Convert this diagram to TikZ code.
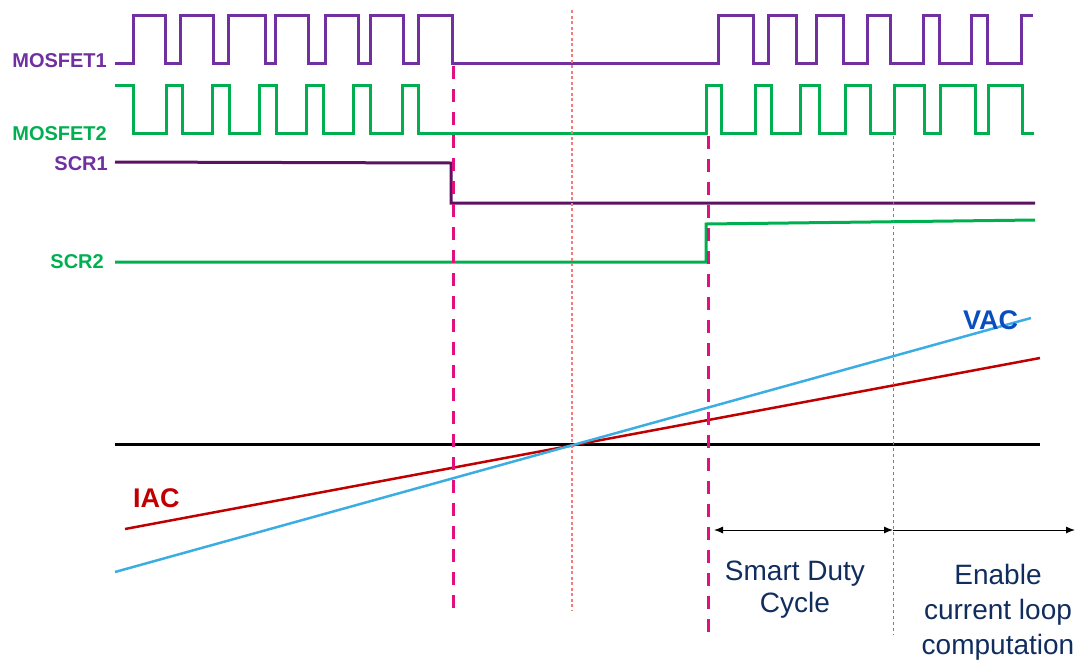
\documentclass[tikz,border=0pt]{standalone}
\usepackage{fontspec}
\setmainfont{Liberation Sans}
\usetikzlibrary{arrows.meta}
\definecolor{purp}{HTML}{7030A0}
\definecolor{grn}{HTML}{00B050}
\definecolor{scrpurp}{HTML}{5C1260}
\definecolor{magen}{HTML}{E2107F}
\definecolor{iacred}{HTML}{C00000}
\definecolor{lineblue}{HTML}{3CADE3}
\definecolor{vacblue}{HTML}{0A4DC0}
\definecolor{navy}{HTML}{112D5E}
\definecolor{dotred}{HTML}{F47C7C}
\tikzset{sig/.style={line width=3pt,line join=miter},
  lbl/.style={font=\bfseries\fontsize{20}{24}\selectfont,anchor=base east,inner sep=0},
  wave/.style={font=\bfseries\fontsize{27}{30}\selectfont,anchor=base west,inner sep=0},
  cut/.style={magen,line width=3pt,dash pattern=on 13pt off 10pt},
  note/.style={navy,align=center,inner sep=0}}

\begin{document}
\begin{tikzpicture}[x=1pt,y=-1pt,>={Latex[length=9,width=7]}]
\useasboundingbox(0,0)rectangle(1088,662);
% switching signals
\draw[sig,purp](115,63)-|(133,15)-|(165,63)-|(180,15)-|(213,63)-|(228,15)-|(265,63)-|(275,15)-|(308,63)-|(325,15)-|(358,63)-|(370,15)-|(403,63)-|(418,15)-|(452,63)
  -|(718,15)-|(753,63)-|(768,15)-|(796,63)-|(816,15)-|(843,63)-|(867,15)-|(890,63)-|(923,15)-|(939,63)-|(971,15)-|(987,63)-|(1021,15)--(1033,15);
\draw[sig,grn](115,85)-|(133,133)-|(166,85)-|(182,133)-|(212,85)-|(229,133)-|(259,85)-|(276,133)-|(306,85)-|(323,133)-|(353,85)-|(370,133)-|(402,85)-|(418,133)
  -|(706,85)-|(721,133)-|(755,85)-|(771,133)-|(800,85)-|(819,133)-|(845,85)-|(870,133)-|(894,85)-|(924,133)-|(940,85)-|(975,133)-|(988,85)-|(1022,133)--(1034,133);
\draw[sig,scrpurp](115,162)--(451,163)|-(1035,203);
\draw[sig,grn](115,262)--(706,262)--(706,224)--(1035,220);
\node[lbl,purp](mos1)at(107,67){MOSFET1};\node[lbl,grn](mos2)at(107,140){MOSFET2};
\node[lbl,purp](scr1)at(108,170){SCR1};\node[lbl,grn](scr2)at(104,268){SCR2};
% ac quantities
\draw[line width=3pt](115,444)--(1040,444);
\draw[iacred,line width=2.5pt](125,529)--(1040,358);\draw[lineblue,line width=2.5pt](115,572)--(1031,318);
\node[wave,iacred](iac)at(133,507){IAC};\node[wave,vacblue](vac)at(963,329){VAC};
% markers
\draw[dotred,line width=1.5pt,dash pattern=on 3pt off 2.5pt](572,10)--(572,610);
\draw[cut](453,66)--(453,610);\draw[cut](708,136)--(708,632);
\draw[gray,line width=1pt,dash pattern=on 3pt off 3pt](893,136)--(893,635);
\coordinate(sdc0)at(714,530);\coordinate(sdc1)at(893,530);\coordinate(clc1)at(1075,530);
\draw[<->,line width=1pt](sdc0)--(sdc1);\draw[->,line width=1pt](sdc1)--(clc1);
\node[note,font=\fontsize{28}{32}\selectfont](sdc)at(795,590){Smart Duty\\Cycle};
\node[note,font=\fontsize{28}{35}\selectfont](clc)at(998,612){Enable\\current loop\\computation};
\end{tikzpicture}
\end{document}
